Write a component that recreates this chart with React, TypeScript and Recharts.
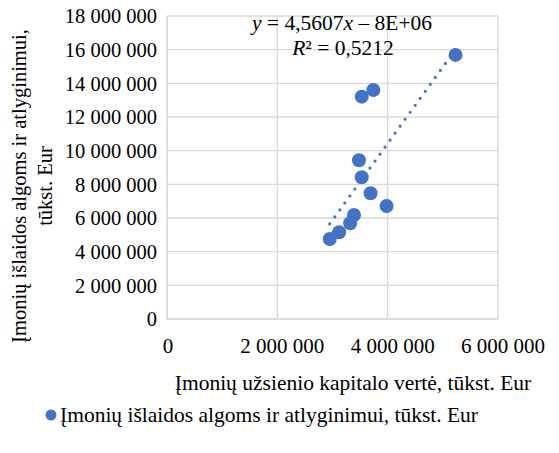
import { ScatterChart, Scatter, XAxis, YAxis, CartesianGrid, Customized } from "recharts";

const capitalValues = [2950000, 3120000, 3320000, 3390000, 3480000, 3530000, 3530000, 3690000, 3740000, 3980000, 5230000];
const wageValues = [4750000, 5150000, 5690000, 6180000, 9430000, 8420000, 13210000, 7470000, 13600000, 6710000, 15690000];
const xTicks = [0, 2000000, 4000000, 6000000];
const yTicks = [0, 2000000, 4000000, 6000000, 8000000, 10000000, 12000000, 14000000, 16000000, 18000000];

const seriesName = "Įmonių išlaidos algoms ir atlyginimui, tūkst. Eur";
const xTitle = "Įmonių užsienio kapitalo vertė, tūkst. Eur";
const yTitleLines = ["Įmonių išlaidos algoms ir atlyginimui,", "tūkst. Eur"];
const equation = "4,5607";
const equationTail = "– 8E+06";
const rSquared = "0,5212";

const points = capitalValues.map((x, i) => ({ x, y: wageValues[i] }));

// least squares trend line over the data range
function trendLine() {
    const n = capitalValues.length;
    const mx = capitalValues.reduce((a, b) => a + b, 0) / n;
    const my = wageValues.reduce((a, b) => a + b, 0) / n;
    let sxy = 0;
    let sxx = 0;
    capitalValues.forEach((x, i) => {
        sxy += (x - mx) * (wageValues[i] - my);
        sxx += (x - mx) * (x - mx);
    });
    const slope = sxy / sxx;
    const icpt = my - slope * mx;
    const x0 = Math.min(...capitalValues);
    const x1 = Math.max(...capitalValues);
    return [
        { x: x0, y: slope * x0 + icpt },
        { x: x1, y: slope * x1 + icpt },
    ];
}

const fmt = (v: number) => String(v).replace(/\B(?=(\d{3})+(?!\d))/g, " ");

const FONT = "Liberation Serif";
const BLUE = "#4472C4";
const GRID = "#d9d9d9";

function XTick(props: any) {
    const { x, y, payload } = props;
    const shift = payload.value === 0 ? 1 : 5;
    return (
        <text x={x + shift} y={y} dy="0.71em" textAnchor="middle" fill="#000" style={{ fontFamily: FONT, fontSize: 21 }}>
            {fmt(payload.value)}
        </text>
    );
}

function Labels() {
    return (
        <g style={{ fontFamily: FONT, fontSize: 21.5 }} fill="#000">
            {yTitleLines.map((line, i) => (
                <text
                    key={i}
                    x={19 + i * 26}
                    y={186}
                    textAnchor="middle"
                    dominantBaseline="central"
                    transform={`rotate(-90, ${19 + i * 26}, 186)`}
                    style={{ fontSize: 20.5 }}
                >
                    {line}
                </text>
            ))}
            <text x={353} y={383} textAnchor="middle" dominantBaseline="central">
                {xTitle}
            </text>
            <text x={342} y={23} textAnchor="middle" dominantBaseline="central">
                <tspan fontStyle="italic">y</tspan> = {equation}
                <tspan fontStyle="italic">x</tspan> {equationTail}
            </text>
            <text x={343} y={48} textAnchor="middle" dominantBaseline="central">
                <tspan fontStyle="italic">R</tspan>² = {rSquared}
            </text>
            <circle cx={51} cy={415} r={5.5} fill={BLUE} />
            <text x={60} y={415} dominantBaseline="central">
                {seriesName}
            </text>
        </g>
    );
}

export default function App() {
    return (
        <div style={{ position: "absolute", left: 0, top: 0, background: "#fff", fontFamily: FONT }}>
            <ScatterChart
                width={559}
                height={453}
                margin={{ top: 16, right: 61, bottom: 104, left: 0 }}
                style={{ fontFamily: FONT }}
            >
                <CartesianGrid stroke={GRID} strokeWidth={1.3} />
                <XAxis
                    type="number"
                    dataKey="x"
                    height={30}
                    domain={[0, 6000000]}
                    ticks={xTicks}
                    tickLine={false}
                    tickSize={0}
                    tickMargin={19}
                    axisLine={{ stroke: GRID, strokeWidth: 1.3 }}
                    tick={<XTick />}
                    interval={0}
                />
                <YAxis
                    type="number"
                    dataKey="y"
                    width={167}
                    domain={[0, 18000000]}
                    ticks={yTicks}
                    tickFormatter={fmt}
                    tickLine={false}
                    tickSize={0}
                    tickMargin={10}
                    axisLine={{ stroke: GRID, strokeWidth: 1.3 }}
                    tick={{ fill: "#000", fontSize: 20.5, fontFamily: FONT }}
                    interval={0}
                />
                <Scatter
                    data={trendLine()}
                    line={{ stroke: BLUE, strokeWidth: 3.2, strokeDasharray: "0 8.6", strokeLinecap: "round" }}
                    shape={() => <g />}
                    legendType="none"
                    isAnimationActive={false}
                />
                <Scatter
                    name={seriesName}
                    data={points}
                    fill={BLUE}
                    isAnimationActive={false}
                    shape={(p: any) => <circle cx={p.cx} cy={p.cy} r={7} fill={BLUE} />}
                />
                <Customized component={Labels} />
            </ScatterChart>
        </div>
    );
}
